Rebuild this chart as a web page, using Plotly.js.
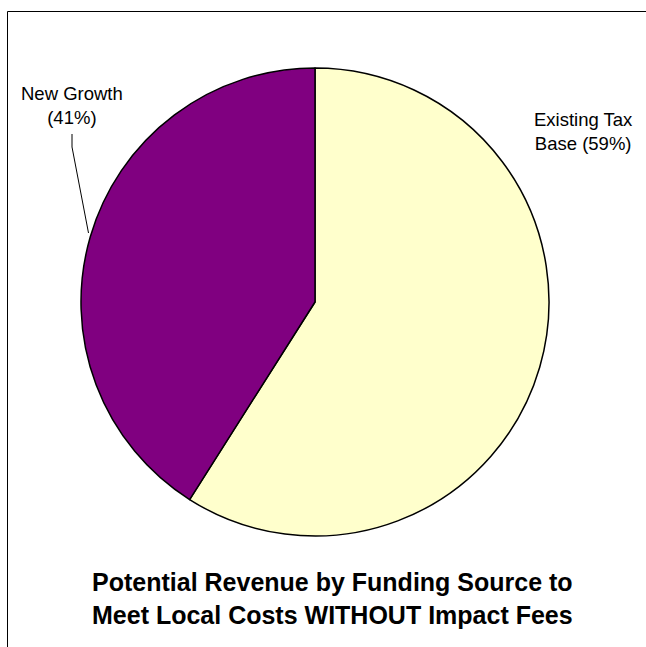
<!DOCTYPE html>
<html>
<head>
<meta charset="utf-8">
<script src="https://cdn.plot.ly/plotly-3.0.1.min.js"></script>
<style>html,body{margin:0;padding:0;background:#fff;}#chart{width:646px;height:647px;}</style>
</head>
<body>
<div id="chart"></div>
<script>
var categories = ["Existing Tax Base", "New Growth"];
var values = [59, 41];
var labelLines = [["Existing Tax", "Base"], ["New Growth", ""]];
var colors = ["#FFFFCC", "#800080"];
var titleLines = ["Potential Revenue by Funding Source to", "Meet Local Costs WITHOUT Impact Fees"];

var W = 646, H = 647;
function px(x){return x / W;}
function py(y){return 1 - y / H;}

var total = values.reduce(function(a,b){return a+b;},0);
function labelText(i){
  var pct = Math.round(values[i] / total * 100) + "%";
  var l = labelLines[i];
  return l[0] + "<br>" + (l[1] ? l[1] + " " : "") + "(" + pct + ")";
}

var trace = {
  type: "pie",
  labels: categories,
  values: values,
  sort: false,
  direction: "clockwise",
  rotation: 0,
  textinfo: "none",
  hoverinfo: "label+percent",
  marker: {colors: colors, line: {color: "#000000", width: 1.5}},
  domain: {x: [px(81), px(549)], y: [py(536), py(68)]},
  showlegend: false
};

var font = "Liberation Sans, Arial, sans-serif";
var layout = {
  width: W, height: H,
  margin: {l: 0, r: 0, t: 0, b: 0},
  paper_bgcolor: "#ffffff",
  showlegend: false,
  annotations: [
    {xref: "paper", yref: "paper", x: px(583), y: py(131), text: labelText(0), showarrow: false,
     font: {family: font, size: 18.5, color: "#000"}, align: "center", xanchor: "center", yanchor: "middle"},
    {xref: "paper", yref: "paper", x: px(72), y: py(106), text: labelText(1), showarrow: false,
     font: {family: font, size: 18.5, color: "#000"}, align: "center", xanchor: "center", yanchor: "middle"},
    {xref: "paper", yref: "paper", x: px(332), y: py(598), text: "<b>" + titleLines.join("<br>") + "</b>", showarrow: false,
     font: {family: font, size: 25, color: "#000"}, align: "center", xanchor: "center", yanchor: "middle"}
  ],
  shapes: [
    {type: "rect", xref: "paper", yref: "paper", x0: px(7.5), x1: px(660), y0: py(660), y1: py(11.5),
     line: {color: "#000", width: 1}, fillcolor: "rgba(0,0,0,0)", layer: "below"},
    {type: "path", xref: "paper", yref: "paper",
     path: "M " + px(72) + " " + py(134) + " L " + px(72) + " " + py(147) + " L " + px(88.5) + " " + py(233),
     line: {color: "#000", width: 1}}
  ]
};

Plotly.newPlot("chart", [trace], layout, {displayModeBar: false, staticPlot: true});
</script>
</body>
</html>
